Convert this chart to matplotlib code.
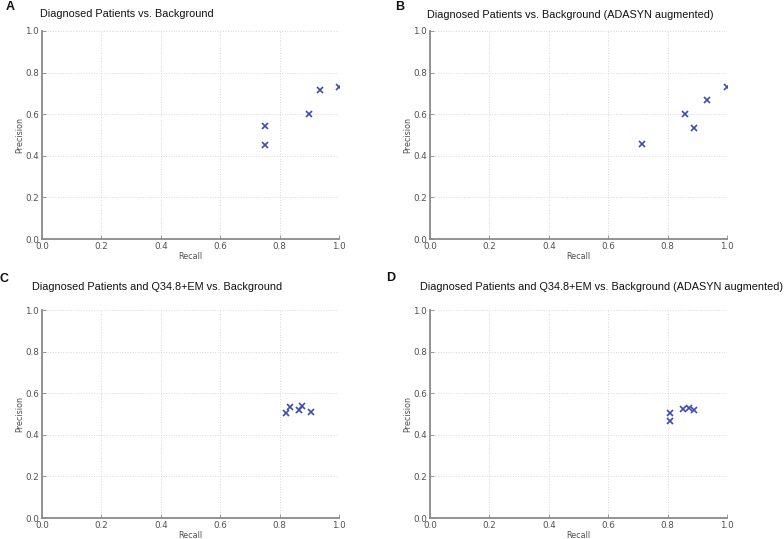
import matplotlib
matplotlib.use('Agg')
import matplotlib.pyplot as plt

# recall / precision
recall_a = [0.75, 0.75, 0.90, 0.9375, 1.0]
precision_a = [0.545, 0.45, 0.60, 0.714, 0.733]

recall_b = [0.714, 0.857, 0.889, 0.933, 1.0]
precision_b = [0.455, 0.60, 0.533, 0.667, 0.733]

recall_c = [0.822, 0.835, 0.867, 0.875, 0.906]
precision_c = [0.507, 0.533, 0.518, 0.537, 0.510]

recall_d = [0.808, 0.808, 0.852, 0.871, 0.889]
precision_d = [0.467, 0.505, 0.524, 0.531, 0.520]

titles = ['Diagnosed Patients vs. Background',
          'Diagnosed Patients vs. Background (ADASYN augmented)',
          'Diagnosed Patients and Q34.8+EM vs. Background',
          'Diagnosed Patients and Q34.8+EM vs. Background (ADASYN augmented)']
letras = ['A', 'B', 'C', 'D']
ticks = [0.0, 0.2, 0.4, 0.6, 0.8, 1.0]

W, H = 784, 539
fig = plt.figure(figsize=(W/100, H/100), dpi=100)

# panel boxes in pixels: left, top
cajas = [(42, 31), (430, 31), (42, 310), (430, 310)]
titulo_pos = [(40, 14), (427, 15), (32, 287), (420, 287)]
letra_pos = [(6, 7), (395, 7), (0, 279), (386, 278)]
datos = [(recall_a, precision_a), (recall_b, precision_b),
         (recall_c, precision_c), (recall_d, precision_d)]

for i in range(4):
    x0, y0 = cajas[i]
    ax = fig.add_axes([x0/W, 1-(y0+208)/H, 297/W, 208/H])
    r, p = datos[i]
    ax.plot(r, p, 'x', color='#3b4db3', markersize=3.8, markeredgewidth=1.2)
    ax.set_xlim(0, 1)
    ax.set_ylim(0, 1)
    ax.set_xticks(ticks)
    ax.set_yticks(ticks)
    ax.grid(True, linestyle=':', color='#d8d8d8', linewidth=0.7)
    ax.set_axisbelow(True)
    for s in ['top', 'right']:
        ax.spines[s].set_visible(False)
    for s in ['left', 'bottom']:
        ax.spines[s].set_color('#8a8a8a')
        ax.spines[s].set_linewidth(1.3)
    ax.tick_params(direction='in', length=3, width=0.6, color='#8a8a8a',
                   labelsize=6.3, labelcolor='#505050', pad=2)
    ax.set_xlabel('Recall', fontsize=5.8, color='#505050', labelpad=1)
    ax.set_ylabel('Precision', fontsize=5.8, color='#505050', labelpad=1)
    tx, ty = titulo_pos[i]
    fig.text(tx/W, 1-ty/H, titles[i], family='Liberation Sans', fontsize=7.85,
             ha='left', va='center', color='#111111')
    lx, ly = letra_pos[i]
    fig.text(lx/W, 1-ly/H, letras[i], family='Liberation Sans', fontsize=9,
             fontweight='bold', ha='left', va='center', color='#111111')

fig.savefig('out.png', dpi=100)
